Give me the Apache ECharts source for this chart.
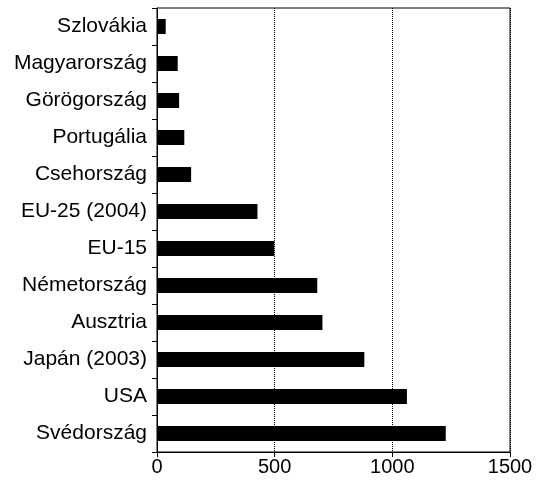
<!DOCTYPE html>
<html>
<head>
<meta charset="utf-8">
<script src="https://cdn.jsdelivr.net/npm/echarts@6/dist/echarts.min.js"></script>
<style>
  html, body { margin: 0; padding: 0; background: #fff; }
  #chart { width: 536px; height: 482px; }
</style>
</head>
<body>
<div id="chart"></div>
<script>
// Országok (felülről lefelé)
const countries = [
  'Szlovákia', 'Magyarország', 'Görögország', 'Portugália', 'Csehország',
  'EU-25 (2004)', 'EU-15', 'Németország', 'Ausztria', 'Japán (2003)',
  'USA', 'Svédország'
];
const values = [37, 88, 94, 116, 145, 427, 498, 681, 703, 881, 1062, 1227];
const xTicks = [0, 500, 1000, 1500];

const chart = echarts.init(document.getElementById('chart'));

const font = 'Liberation Sans, Arial, sans-serif';

chart.setOption({
  animation: false,
  grid: {
    left: 157,
    right: 26,
    top: 8,
    bottom: 30,
    show: true,
    borderColor: '#000',
    borderWidth: 1,
    backgroundColor: 'transparent'
  },
  xAxis: {
    type: 'value',
    min: xTicks[0],
    max: xTicks[xTicks.length - 1],
    interval: 500,
    axisLine: { show: true, lineStyle: { color: '#000', width: 1 } },
    axisTick: { show: true, length: 5, lineStyle: { color: '#000' } },
    axisLabel: {
      color: '#000', fontSize: 20, fontFamily: font, margin: 5,
      formatter: v => String(v)
    },
    splitLine: { show: true, lineStyle: { color: '#000', type: 'dotted', width: 1 } }
  },
  yAxis: {
    type: 'category',
    inverse: true,
    data: countries,
    axisLine: { show: true, lineStyle: { color: '#000', width: 1 } },
    axisTick: { show: true, length: 5, lineStyle: { color: '#000' } },
    axisLabel: { color: '#000', fontSize: 21, fontFamily: font, margin: 10 },
    splitLine: { show: false }
  },
  series: [{
    type: 'bar',
    data: values,
    barWidth: 15,
    itemStyle: { color: '#000' }
  }]
});
</script>
</body>
</html>
